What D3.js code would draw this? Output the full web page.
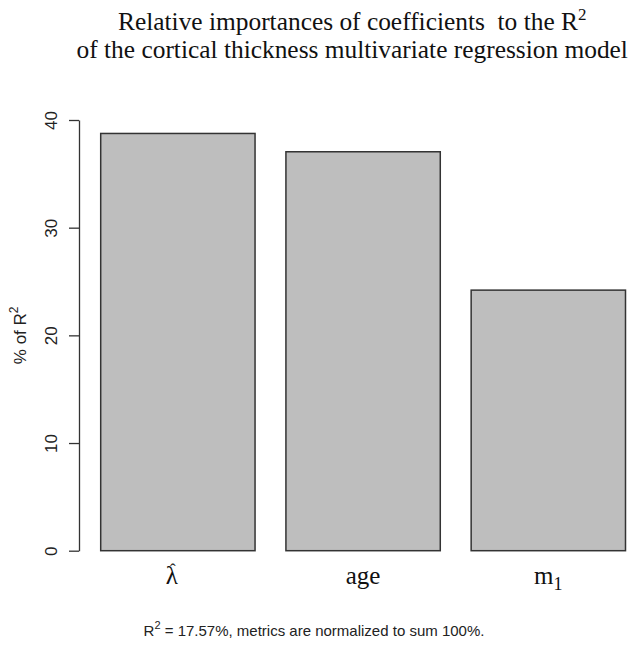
<!DOCTYPE html>
<meta charset="utf-8">
<style>
  body { margin: 0; background: #fff; }
  .serif { font-family: "Liberation Serif", "Times New Roman", serif; }
  .sans { font-family: "Liberation Sans", Arial, sans-serif; }
</style>
<svg width="630" height="649"></svg>
<script src="https://cdn.jsdelivr.net/npm/d3@7/dist/d3.min.js"></script>
<script>
// data
var categories = ["lambda", "age", "m1"];
var values = [38.75, 37.05, 24.2];
var yTicks = [0, 10, 20, 30, 40];

var svg = d3.select("svg");

// plot region (pixel frame of the R plot)
var plot = {left: 79, right: 625.5, top: 120, bottom: 550.7};

var x = d3.scaleBand()
    .domain(categories)
    .range([100.7, 625.5])
    .paddingInner(0.2 / 1.2)
    .paddingOuter(0);

var y = d3.scaleLinear().domain([0, 40]).range([plot.bottom, plot.top]);

// bars
svg.append("g")
  .selectAll("rect")
  .data(values)
  .enter().append("rect")
    .attr("x", function(d, i) { return x(categories[i]); })
    .attr("y", function(d) { return y(d); })
    .attr("width", x.bandwidth())
    .attr("height", function(d) { return y(0) - y(d); })
    .attr("fill", "#bebebe")
    .attr("stroke", "#333")
    .attr("stroke-width", 1.5);

// y axis
var yAxis = svg.append("g")
    .attr("transform", "translate(" + plot.left + ",0)")
    .call(d3.axisLeft(y).tickValues(yTicks).tickSize(10).tickSizeOuter(0).tickFormat(d3.format("d")));
yAxis.select(".domain").attr("stroke", "#333").attr("stroke-width", 1.3);
yAxis.selectAll(".tick line").attr("stroke", "#333").attr("stroke-width", 1.3);
yAxis.selectAll(".tick text")
    .attr("class", "sans")
    .attr("font-size", 17)
    .attr("fill", "#222")
    .attr("transform", "rotate(-90)")
    .attr("x", 0)
    .attr("y", -22)
    .attr("dy", 0)
    .attr("text-anchor", "middle");

// y title
var yt = svg.append("text")
    .attr("class", "sans")
    .attr("font-size", 17)
    .attr("fill", "#222")
    .attr("text-anchor", "middle")
    .attr("transform", "translate(26," + ((plot.top + plot.bottom) / 2) + ") rotate(-90)");
yt.append("tspan").text("% of R");
yt.append("tspan").attr("font-size", 12).attr("dy", -8).text("2");

// x labels (math style, serif)
var xl = svg.append("g").attr("class", "serif").attr("font-size", 25).attr("fill", "#111");
var cx = function(k) { return x(k) + x.bandwidth() / 2; };

// lambda hat: one text, hat as its own tspan placed over the lambda
var lamC = cx("lambda") - 6;
var lam = xl.append("text").attr("y", 584).attr("text-anchor", "start");
var lamBody = lam.append("tspan").text("\u03BB");
var lw = lamBody.node().getComputedTextLength();
lamBody.attr("x", lamC - lw / 2);
var hat = lam.append("tspan").attr("font-size", 17).attr("dy", -9).text("\u02C6");
var hw = hat.node().getComputedTextLength();
hat.attr("x", lamC - hw / 2 + 1);

xl.append("text").attr("x", cx("age")).attr("y", 584).attr("text-anchor", "middle").text("age");

var m1 = xl.append("text").attr("x", cx("m1")).attr("y", 584).attr("text-anchor", "middle");
m1.append("tspan").text("m");
m1.append("tspan").attr("font-size", 18).attr("dy", 6).text("1");

// title
var midX = (plot.left + plot.right) / 2;
var t1 = svg.append("text").attr("class", "serif").attr("font-size", 25.4).attr("fill", "#111")
    .attr("x", midX).attr("y", 30).attr("text-anchor", "middle");
t1.append("tspan").text("Relative importances of coefficients\u00A0 to the R");
t1.append("tspan").attr("font-size", 17).attr("dy", -10).text("2");

svg.append("text").attr("class", "serif").attr("font-size", 25.4).attr("fill", "#111")
    .attr("x", midX).attr("y", 58).attr("text-anchor", "middle")
    .text("of the cortical thickness multivariate regression model");

// subtitle
var sub = svg.append("text").attr("class", "sans").attr("font-size", 15).attr("fill", "#222")
    .attr("x", 314).attr("y", 636).attr("text-anchor", "middle");
sub.append("tspan").text("R");
sub.append("tspan").attr("font-size", 11).attr("dy", -7).text("2");
sub.append("tspan").attr("dy", 7).text(" = 17.57%, metrics are normalized to sum 100%.");
</script>
